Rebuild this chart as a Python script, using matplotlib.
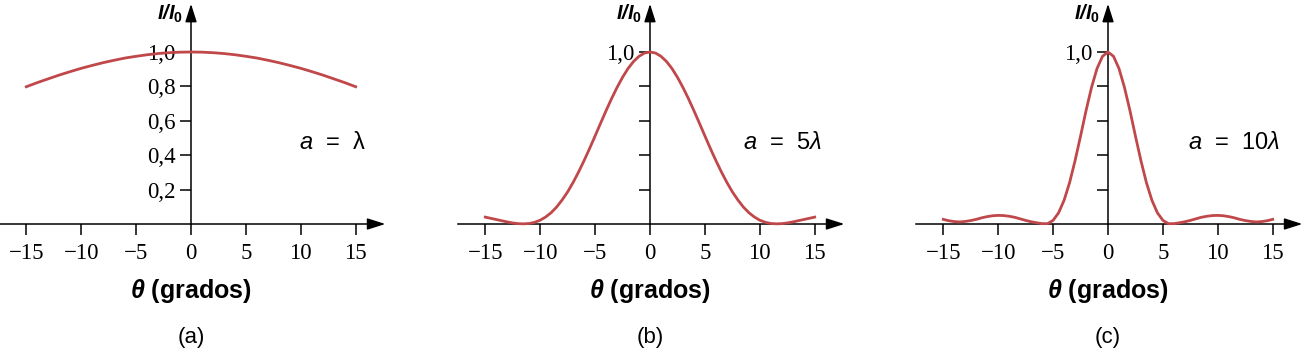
import matplotlib.pyplot as plt

plt.rcParams['mathtext.fontset'] = 'custom'
plt.rcParams['mathtext.it'] = 'Liberation Sans:italic'
plt.rcParams['mathtext.bf'] = 'Liberation Sans:bold:italic'
plt.rcParams['mathtext.rm'] = 'Liberation Sans'
plt.rcParams['mathtext.sf'] = 'Liberation Sans:bold'

# values (curves are symmetric about 0)
theta_a = [0, 1, 2, 3, 4, 5, 6, 7, 8, 9, 10, 11, 12, 13, 14, 15]
I_a = [1.0, 0.999, 0.996, 0.991, 0.984, 0.975, 0.965, 0.952, 0.938, 0.922,
       0.905, 0.886, 0.866, 0.844, 0.822, 0.798]

theta_b = [0, 0.5, 1, 1.5, 2, 2.5, 3, 3.5, 4, 4.5, 5, 5.5, 6, 6.5, 7, 7.5,
           8, 8.5, 9, 9.5, 10, 10.5, 11, 11.5, 12, 12.5, 13, 13.5, 14, 14.5, 15]
I_b = [1.0, 0.994, 0.975, 0.945, 0.904, 0.853, 0.794, 0.729, 0.659, 0.586,
       0.512, 0.439, 0.369, 0.303, 0.242, 0.187, 0.140, 0.099, 0.066, 0.041,
       0.022, 0.010, 0.003, 0.001, 0.002, 0.006, 0.012, 0.019, 0.026, 0.033, 0.040]

theta_c = [0, 0.5, 1, 1.5, 2, 2.5, 3, 3.5, 4, 4.5, 5, 5.5, 6, 6.5, 7, 7.5,
           8, 8.5, 9, 9.5, 10, 10.5, 11, 11.5, 12, 12.5, 13, 13.5, 14, 14.5, 15]
I_c = [1.0, 0.975, 0.904, 0.794, 0.659, 0.511, 0.368, 0.240, 0.138, 0.065,
       0.021, 0.002, 0.002, 0.007, 0.013, 0.021, 0.030, 0.039, 0.045, 0.049,
       0.050, 0.048, 0.043, 0.036, 0.027, 0.020, 0.015, 0.012, 0.014, 0.019, 0.027]

x_ticks = [-15, -10, -5, 0, 5, 10, 15]
x_labels = ['−15', '−10', '−5', '0', '5', '10', '15']
y_ticks = [0.2, 0.4, 0.6, 0.8, 1.0]
y_labels_a = ['0,2', '0,4', '0,6', '0,8', '1,0']
y_labels_bc = ['', '', '', '', '1,0']

panels = [
    (theta_a, I_a, y_labels_a, r'$\mathit{a}$  =  λ', '(a)', 9.8),
    (theta_b, I_b, y_labels_bc, r'$\mathit{a}$  =  5$\mathit{λ}$', '(b)', 8.45),
    (theta_c, I_c, y_labels_bc, r'$\mathit{a}$  =  10$\mathit{λ}$', '(c)', 7.3),
]

W, H = 1301, 352
centers = [191, 650, 1108]
px_deg = 10.98
px_unit = 172
y0_px = 224
xlo, xhi = -17.45, 17.7
ytop = 1.28
red = '#c0474a'

fig = plt.figure(figsize=(W / 100, H / 100), dpi=100)

for (th, vals, ylabs, note, tag, note_x), c in zip(panels, centers):
    ax = fig.add_axes([(c + xlo * px_deg) / W, (H - y0_px) / H,
                       (xhi - xlo) * px_deg / W, ytop * px_unit / H])
    ax.set_xlim(xlo, xhi)
    ax.set_ylim(0, ytop)
    ax.patch.set_alpha(0)

    full_th = [-t for t in reversed(th[1:])] + list(th)
    full_I = list(reversed(vals[1:])) + list(vals)
    ax.plot(full_th, full_I, color=red, lw=2.0, clip_on=False, zorder=3)

    for s in ['top', 'right']:
        ax.spines[s].set_visible(False)
    ax.spines['left'].set_position(('data', 0))
    ax.spines['left'].set_bounds(0, ytop - 0.08)
    ax.spines['bottom'].set_bounds(xlo, xhi - 0.8)
    for s in ['left', 'bottom']:
        ax.spines[s].set_linewidth(1.1)

    arrow = dict(arrowstyle='-|>,head_length=1.1,head_width=0.35',
                 color='black', lw=1.1, shrinkA=0, shrinkB=0)
    ax.annotate('', xy=(xhi, 0), xytext=(xhi - 1.0, 0), arrowprops=arrow,
                annotation_clip=False)
    ax.annotate('', xy=(0, ytop), xytext=(0, ytop - 0.1), arrowprops=arrow,
                annotation_clip=False)

    ax.set_xticks(x_ticks)
    ax.set_xticklabels(x_labels, fontfamily='Liberation Serif', fontsize=16.5)
    ax.set_yticks(y_ticks)
    ax.set_yticklabels(ylabs, fontfamily='Liberation Serif', fontsize=16.5)
    ax.tick_params(axis='x', direction='out', length=8, width=1.1, pad=6)
    ax.tick_params(axis='y', direction='out', length=8, width=1.1, pad=3)

    ax.text(note_x, 0.47, note, fontfamily='Liberation Sans', fontsize=17,
            ha='left', va='center')

    fig.text((c - 8) / W, (H - 20) / H, r'$\mathbf{I/I}_{\mathsf{0}}$',
             fontsize=14.5, ha='right', va='baseline')
    fig.text(c / W, (H - 291) / H, r'$\mathbf{θ}$ (grados)',
             fontfamily='Liberation Sans', fontweight='bold', fontsize=18,
             ha='center', va='center')
    fig.text(c / W, (H - 337) / H, tag, fontfamily='Liberation Sans',
             fontsize=16, ha='center', va='center')

fig.savefig('out.png', dpi=100)
